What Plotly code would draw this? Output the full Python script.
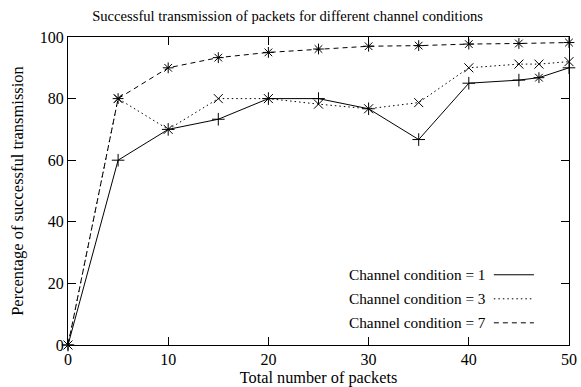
import plotly.graph_objects as go

# ---- data ----
x_c1 = [0, 5, 10, 15, 20, 25, 30, 35, 40, 45, 47, 50]
y_c1 = [0, 60, 70, 73.3, 80, 80, 76.7, 66.7, 85, 86, 86.8, 90]
x_c3 = [0, 5, 10, 15, 20, 25, 30, 35, 40, 45, 47, 50]
y_c3 = [0, 80, 70, 80, 80, 78.2, 76.7, 78.7, 90, 91.2, 91.2, 92]
x_c7 = [0, 5, 10, 15, 20, 25, 30, 35, 40, 45, 50]
y_c7 = [0, 80, 90, 93.3, 95, 96.1, 97, 97.2, 97.7, 97.9, 98.2]
names = ["Channel condition = 1", "Channel condition = 3", "Channel condition = 7"]
x_ticks = [0, 10, 20, 30, 40, 50]
y_ticks = [0, 20, 40, 60, 80, 100]

FONT = "Liberation Serif"
dashes = ["solid", "1.5px,3px", "5px,4px"]
symbols = [
    ["cross-thin"] * 10 + ["asterisk", "cross-thin"],
    "x-thin",
    "asterisk",
]

fig = go.Figure()
for xs, ys, nm, d, s in zip([x_c1, x_c3, x_c7], [y_c1, y_c3, y_c7], names, dashes, symbols):
    fig.add_trace(go.Scatter(
        x=xs, y=ys, name=nm, mode="lines+markers",
        line=dict(color="black", width=1, dash=d),
        marker=dict(symbol=s, size=9, color="black", line=dict(color="black", width=1)),
        cliponaxis=False, showlegend=False,
    ))

# gnuplot-style legend: text right-aligned, line sample on the right
leg_y = [0.228, 0.150, 0.072]
for nm, d, yy in zip(names, dashes, leg_y):
    fig.add_annotation(xref="paper", yref="paper", x=0.838, y=yy, text=nm,
                       showarrow=False, xanchor="right", yanchor="middle",
                       font=dict(family=FONT, size=15.3, color="black"))
    fig.add_shape(type="line", xref="paper", yref="paper",
                  x0=0.85, x1=0.93, y0=yy, y1=yy,
                  line=dict(color="black", width=1, dash=d))

axis_common = dict(
    showgrid=False, zeroline=False, showline=True, linecolor="black", linewidth=1,
    mirror="ticks", ticks="inside", ticklen=8, tickcolor="black", tickwidth=1,
    tickfont=dict(family=FONT, size=16, color="black"), automargin=False,
)
fig.update_xaxes(range=[0, 50], tickvals=x_ticks,
                 title=dict(text="Total number of packets", standoff=7,
                            font=dict(family=FONT, size=16.3, color="black")),
                 **axis_common)
fig.update_yaxes(range=[0, 100], tickvals=y_ticks,
                 title=dict(text="Percentage of successful transmission", standoff=12,
                            font=dict(family=FONT, size=16.5, color="black")),
                 **axis_common)

fig.update_layout(
    width=581, height=387,
    margin=dict(l=68, r=12, t=37, b=42),
    paper_bgcolor="white", plot_bgcolor="white",
    title=dict(text="Successful transmission of packets for different channel conditions",
               x=0.495, xanchor="center", y=0.96, yanchor="middle",
               font=dict(family=FONT, size=14.6, color="black")),
)

fig.write_html("out.html")
